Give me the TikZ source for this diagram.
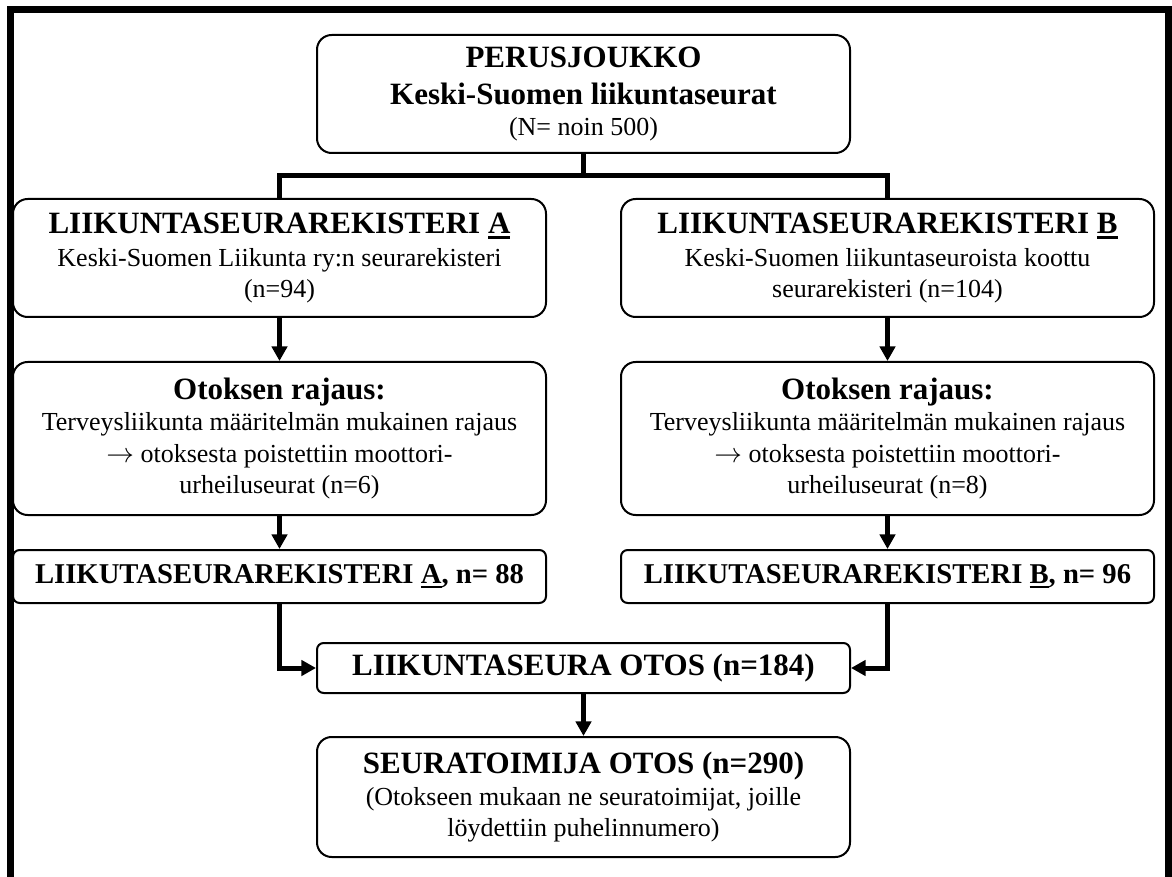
\documentclass[tikz,border=0pt]{standalone}
\usepackage{fontspec}
\setmainfont{Liberation Serif}
\usetikzlibrary{arrows.meta}
\newcommand\hb{\fontsize{23.25pt}{27pt}\selectfont\bfseries}
\newcommand\shd{\fontsize{21.5pt}{25pt}\selectfont\bfseries}
\newcommand\tx{\fontsize{19.5pt}{23.2pt}\selectfont}
\newcommand\myul[1]{\setbox0\hbox{#1}\rlap{\rule[-3.5pt]{\wd0}{1.6pt}}\box0}
\begin{document}
\begin{tikzpicture}[x=0.75pt,y=-0.75pt,
 box/.style={draw, line width=1.5pt, rounded corners=11pt, align=center, inner sep=0pt, font=\tx},
 wbox/.style={box, minimum width=399.75pt},
 sbox/.style={box, rounded corners=5pt},
 conn/.style={line width=3.75pt, line join=miter, line cap=butt},
 arr/.style={conn, -{Triangle[length=11pt,width=11.5pt]}},
 frame/.style={line width=5.25pt, line join=miter}
]
\useasboundingbox (0,0) rectangle (1172,877);
\draw[frame] (10.5,877) -- (10.5,9.5) -- (1168.5,9.5) -- (1168.5,877);

\node[wbox, minimum height=88.5pt] (top) at (583.5,94)
  {{\hb PERUSJOUKKO}\\[4.5pt]{\hb Keski-Suomen liikuntaseurat}\\[0.5pt](N= noin 500)};
\node[wbox, minimum height=88.5pt] (A) at (279.5,258)
  {{\hb LIIKUNTASEURAREKISTERI \myul{A}}\\[1pt]Keski-Suomen Liikunta ry:n seurarekisteri\\(n=94)};
\node[wbox, minimum height=88.5pt] (B) at (887.5,258)
  {{\hb LIIKUNTASEURAREKISTERI \myul{B}}\\[1pt]Keski-Suomen liikuntaseuroista koottu\\seurarekisteri (n=104)};
\node[wbox, minimum height=114.75pt] (OA) at (279.5,438.5)
  {{\hb Otoksen rajaus:}\\[0.5pt]Terveysliikunta määritelmän mukainen rajaus\\[1pt]$\rightarrow$ otoksesta poistettiin moottori-\\urheiluseurat (n=6)};
\node[wbox, minimum height=114.75pt] (OB) at (887.5,438.5)
  {{\hb Otoksen rajaus:}\\[0.5pt]Terveysliikunta määritelmän mukainen rajaus\\[1pt]$\rightarrow$ otoksesta poistettiin moottori-\\urheiluseurat (n=8)};
\node[wbox, sbox, minimum height=39.75pt] (SA) at (279.5,576.5)
  {\shd LIIKUTASEURAREKISTERI \myul{A}, n= 88};
\node[wbox, sbox, minimum height=39.75pt] (SB) at (887.5,576.5)
  {\shd LIIKUTASEURAREKISTERI \myul{B}, n= 96};
\node[wbox, sbox, minimum height=37.5pt] (otos) at (583.5,668)
  {\hb LIIKUNTASEURA OTOS (n=184)};
\node[wbox, minimum height=90pt] (seura) at (583.5,797)
  {{\hb SEURATOIMIJA OTOS (n=290)}\\[0.5pt](Otokseen mukaan ne seuratoimijat, joille\\löydettiin puhelinnumero)};

\coordinate (br) at (583.5,176);
\draw[conn] (top.south) -- (br);
\draw[conn] (A.north) -- (A.north |- br) -- (B.north |- br) -- (B.north);
\draw[arr] (A.south) -- (OA.north);
\draw[arr] (B.south) -- (OB.north);
\draw[arr] (OA.south) -- (SA.north);
\draw[arr] (OB.south) -- (SB.north);
\draw[arr] (SA.south) |- (otos.west);
\draw[arr] (SB.south) |- (otos.east);
\draw[arr] (otos.south) -- (seura.north);
\end{tikzpicture}
\end{document}
